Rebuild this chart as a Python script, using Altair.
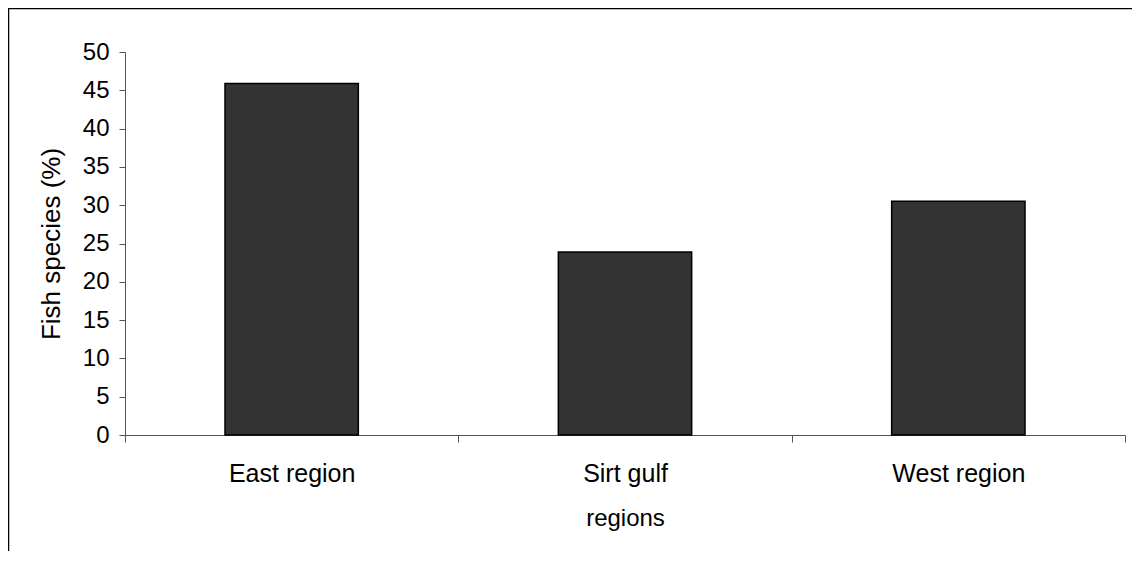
import altair as alt
import pandas as pd

categories = ["East region", "Sirt gulf", "West region"]
values = [45.9, 23.9, 30.5]
y_ticks = [0, 5, 10, 15, 20, 25, 30, 35, 40, 45, 50]

df = pd.DataFrame({"region": categories, "pct": values})

FONT = "Liberation Sans"

bars = alt.Chart(df).mark_bar(
    color="#333333", stroke="#000000", strokeWidth=1.5,
    width=alt.RelativeBandSize(0.4)
).encode(
    x=alt.X("region:N", sort=categories,
            scale=alt.Scale(paddingInner=0, paddingOuter=0),
            axis=alt.Axis(title="regions", labelAngle=0, tickBand="extent",
                          tickSize=7, labelPadding=19, titlePadding=20,
                          labelFontSize=25, titleFontSize=24)),
    y=alt.Y("pct:Q", scale=alt.Scale(domain=[0, 50], nice=False),
            axis=alt.Axis(values=y_ticks, title="Fish species (%)",
                          tickSize=6, labelPadding=10, titlePadding=18,
                          labelFontSize=24, titleFontSize=26)),
)

frame = alt.Chart(alt.Data(values=[{}])).mark_rect(
    fill="transparent", stroke="#000000", strokeWidth=1.5
).encode(
    x=alt.value(-116.5), x2=alt.value(1300),
    y=alt.value(-43.5), y2=alt.value(800)
)

chart = alt.layer(frame, bars).properties(
    width=1000, height=383,
    autosize=alt.AutoSizeParams(type="none"),
    padding={"left": 117, "top": 44, "right": 7, "bottom": 116},
    background="white",
).configure_view(stroke=None).configure_axis(
    labelFont=FONT, titleFont=FONT,
    labelColor="#000000", titleColor="#000000", titleFontWeight="normal",
    domainColor="#555555", tickColor="#555555", domainWidth=1, tickWidth=1,
    grid=False
)

chart.save("out.html", embed_options={"renderer": "svg", "actions": False})
